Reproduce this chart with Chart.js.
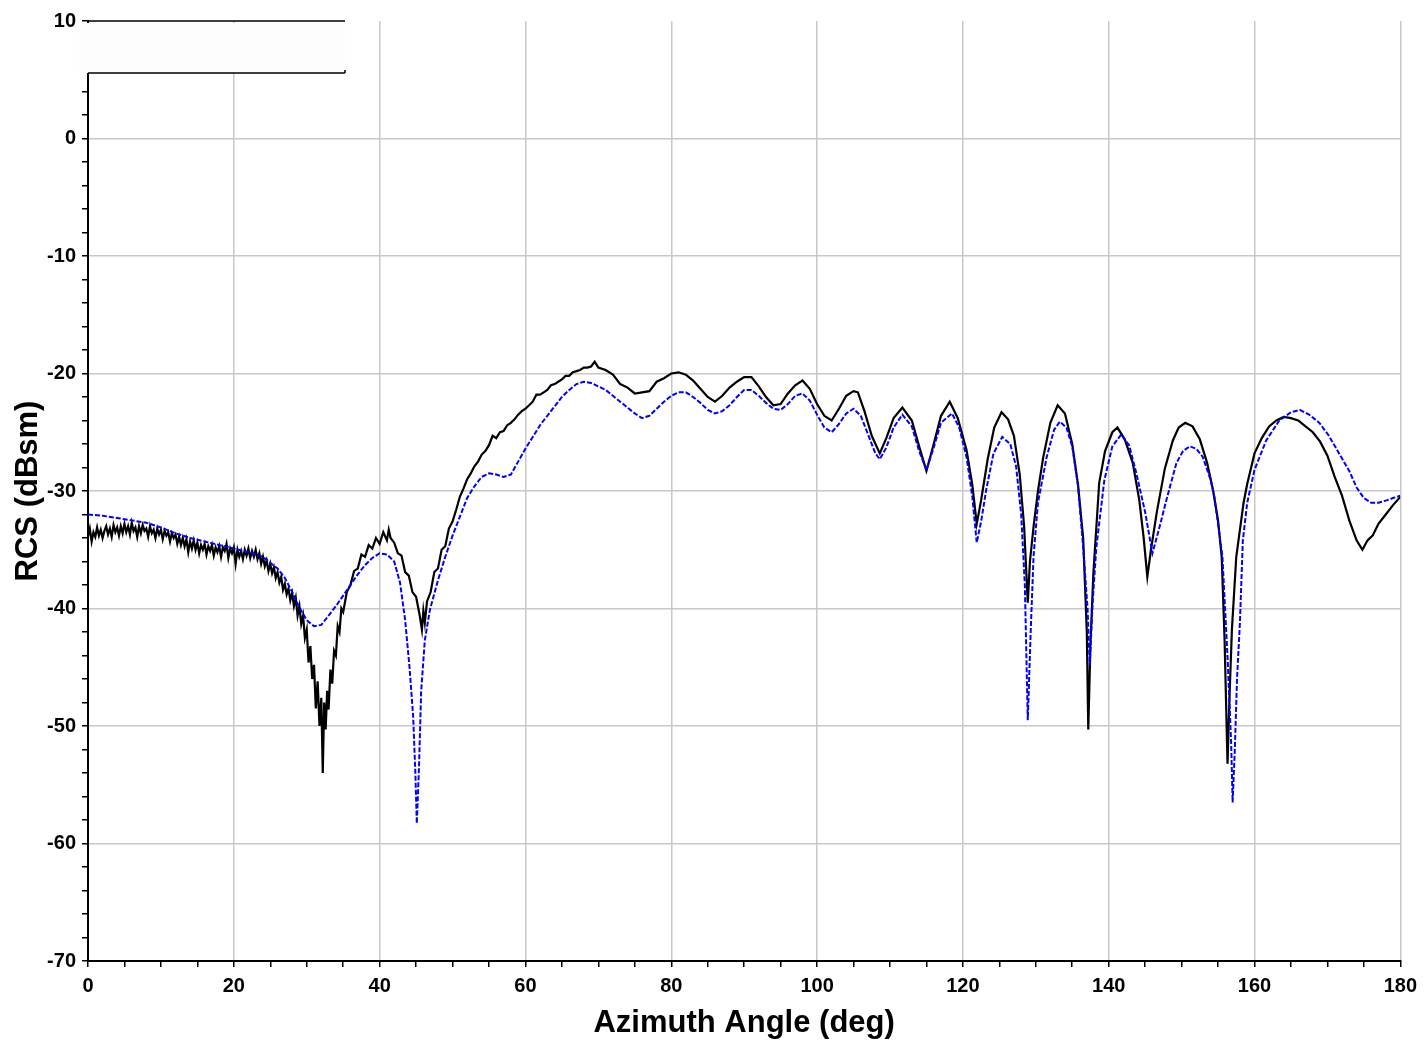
<!DOCTYPE html>
<html>
<head>
<meta charset="utf-8">
<script src="https://cdn.jsdelivr.net/npm/chart.js@4.4.1/dist/chart.umd.min.js"></script>
<style>
    body { margin: 0; background: #fff; }
    #wrap { width: 1424px; height: 1041px; }
</style>
</head>
<body>
<div id="wrap"><canvas id="rcsChart"></canvas></div>
<script>
// Measured RCS (black, noisy)
const measAngle = [
    0, 0.25, 0.5, 0.75, 1, 1.25, 1.5, 1.75, 2, 2.25, 2.5, 2.75, 3, 3.25, 3.5, 3.75, 4, 4.25, 4.5, 4.75,
    5, 5.25, 5.5, 5.75, 6, 6.25, 6.5, 6.75, 7, 7.25, 7.5, 7.75, 8, 8.25, 8.5, 8.75, 9, 9.25, 9.5, 9.75,
    10, 10.25, 10.5, 10.75, 11, 11.25, 11.5, 11.75, 12, 12.25, 12.5, 12.75, 13, 13.25, 13.5, 13.75, 14, 14.25, 14.5, 14.75,
    15, 15.25, 15.5, 15.75, 16, 16.25, 16.5, 16.75, 17, 17.25, 17.5, 17.75, 18, 18.25, 18.5, 18.75, 19, 19.25, 19.5, 19.75,
    20, 20.25, 20.5, 20.75, 21, 21.25, 21.5, 21.75, 22, 22.25, 22.5, 22.75, 23, 23.25, 23.5, 23.75, 24, 24.25, 24.5, 24.75,
    25, 25.25, 25.5, 25.75, 26, 26.25, 26.5, 26.75, 27, 27.25, 27.5, 27.75, 28, 28.25, 28.5, 28.75, 29, 29.25, 29.5, 29.75,
    30, 30.25, 30.5, 30.75, 31, 31.25, 31.5, 31.75, 32, 32.2, 32.4, 32.6, 32.8, 33, 33.25, 33.5, 33.75, 34, 34.25, 34.5, 34.75,
    35, 35.5, 36, 36.5, 37, 37.5, 38, 38.5, 39, 39.5, 40, 40.5, 41, 41.25, 41.5, 42, 42.5, 43, 43.5, 44,
    44.5, 45, 45.5, 45.8, 46, 46.2, 46.5, 47, 47.5, 48, 48.5, 49, 49.5,
    50, 50.5, 51, 51.5, 52, 52.5, 53, 53.5, 54, 54.5, 55, 55.5, 56, 56.5, 57, 57.5, 58, 58.5, 59, 59.5,
    60, 60.5, 61, 61.5, 62, 62.5, 63, 63.5, 64, 64.5, 65, 65.5, 66, 66.5, 67, 67.5, 68, 68.5, 69, 69.5,
    70, 71, 72, 73, 74, 75, 76, 77, 78, 79,
    80, 81, 82, 83, 84, 85, 86, 87, 88, 89, 90, 91, 92, 93, 94, 95, 96, 97, 98, 99,
    100, 101, 102, 103, 104, 105, 105.6, 106.5, 107.5, 108.6, 109.5, 110.5, 111.7, 113, 114, 115, 116, 117, 118.2, 119.3,
    120.5, 121.3, 121.9, 122.5, 123.4, 124.3, 125.3, 126.2, 127, 127.8, 128.4, 128.9, 129.2, 129.7, 130.3, 131, 132, 133, 134, 135,
    135.8, 136.5, 137, 137.2, 137.5, 137.9, 138.7, 139.5, 140.5, 141.2, 142.2, 143.3, 144.2, 144.8, 145.3, 145.8, 146.6, 147.7, 148.8, 149.6,
    150.5, 151.5, 152.5, 153.5, 154.3, 155, 155.5, 155.9, 156.3, 156.6, 156.9, 157.5, 158, 158.5, 159, 160, 161, 162, 163, 164,
    165, 166, 167, 168, 169, 170, 171, 172, 173, 174, 174.8, 175.5, 176.2, 177, 178, 179, 180
];
const measRcs = [
    -33.9, -33.2, -34.3, -33.5, -33.9, -33.1, -33.8, -33.3, -34.0, -33.4, -33.0, -33.7, -33.2, -33.9, -32.9, -33.5, -33.1, -33.8, -33.0, -33.6,
    -32.8, -33.5, -33.0, -33.7, -32.7, -33.4, -33.1, -33.9, -33.0, -33.6, -32.9, -33.4, -33.2, -33.9, -33.0, -33.6, -33.3, -34.0, -33.2, -33.7,
    -33.3, -34.1, -33.4, -33.8, -33.5, -34.3, -33.6, -34.0, -33.7, -34.5, -33.9, -34.6, -34.0, -34.7, -34.1, -35.2, -34.3, -34.9, -34.2, -35.0,
    -34.4, -35.3, -34.6, -35.0, -34.5, -35.4, -34.7, -35.1, -34.6, -35.5, -34.8, -35.2, -34.7, -35.6, -34.8, -35.1, -34.5, -35.7, -34.9, -35.3,
    -34.8, -36.2, -35.0, -35.6, -35.1, -35.8, -35.0, -35.5, -34.9, -35.7, -35.1, -35.6, -35.0, -35.8, -35.3, -36.2, -35.6, -36.4, -35.9, -36.8,
    -36.2, -37.0, -36.5, -37.4, -36.9, -37.8, -37.3, -38.4, -37.9, -38.8, -38.3, -39.3, -38.7, -39.8, -39.1, -40.6, -39.8, -41.3, -40.6, -42.5,
    -41.8, -44.6, -43.2, -46.0, -44.8, -48.5, -46.2, -50.0, -47.6, -54.0, -48.0, -50.3, -47.0, -48.6, -45.2, -46.4, -43.6, -44.0, -41.5, -42.0, -40.0,
    -40.3, -38.6, -38.0, -36.8, -36.6, -35.4, -35.6, -34.6, -34.9, -34.0, -34.5, -33.5, -34.2, -33.3, -34.0, -34.4, -35.3, -35.5, -36.9, -37.2,
    -38.6, -39.0, -40.6, -41.8, -40.2, -41.2, -39.4, -38.6, -36.9, -36.6, -35.0, -34.7, -33.2,
    -32.6, -31.6, -30.5, -29.8, -29.0, -28.5, -27.9, -27.5, -26.9, -26.6, -26.1, -25.3, -25.5, -25.0, -24.9, -24.4, -24.2, -23.9, -23.5, -23.2,
    -23.0, -22.7, -22.4, -21.8, -21.8, -21.6, -21.4, -21.0, -20.9, -20.7, -20.5, -20.2, -20.2, -19.9, -19.8, -19.7, -19.5, -19.5, -19.4, -19.0,
    -19.5, -19.7, -20.1, -20.9, -21.2, -21.7, -21.6, -21.5, -20.7, -20.4,
    -20.0, -19.9, -20.1, -20.6, -21.3, -22.0, -22.4, -21.9, -21.2, -20.7, -20.3, -20.3, -21.1, -22.0, -22.7, -22.6, -21.7, -21.0, -20.6, -21.3,
    -22.6, -23.6, -24.0, -23.0, -21.9, -21.5, -21.6, -23.2, -25.3, -26.8, -25.5, -23.8, -22.9, -24.0, -26.2, -28.3, -26.0, -23.6, -22.4, -23.8,
    -26.5, -29.5, -32.8, -30.8, -27.3, -24.6, -23.3, -23.9, -25.3, -28.6, -33.0, -39.5, -36.0, -33.0, -30.0, -27.2, -24.2, -22.7, -23.4, -26.0,
    -29.5, -34.0, -42.0, -50.3, -43.0, -37.0, -29.3, -26.6, -25.0, -24.6, -25.6, -27.6, -30.8, -34.0, -37.3, -35.0, -31.8, -28.1, -25.7, -24.6,
    -24.2, -24.5, -25.6, -27.6, -29.9, -32.5, -35.6, -42.7, -53.2, -47.0, -41.8, -35.6, -33.3, -31.0, -29.4, -26.8, -25.5, -24.5, -24.0, -23.7,
    -23.8, -24.0, -24.5, -25.0, -25.8, -27.0, -28.8, -30.4, -32.5, -34.2, -35.0, -34.2, -33.8, -32.8, -32.0, -31.2, -30.5
];

// Simulated RCS (blue, dashed)
const simAngle = [
    0, 2, 4, 6, 8, 10, 12, 14, 16, 18, 20, 22, 24, 25, 26, 27, 28, 29, 30, 31, 32, 33, 34, 35, 36, 37, 38, 39,
    40, 41, 42, 42.8, 43.5, 44.1, 44.6, 44.9, 45.1, 45.4, 45.7, 46.2, 46.9, 48, 49,
    50, 51, 52, 53, 54, 55, 56, 57, 58, 59, 60, 61, 62, 63, 64, 65, 66, 67, 68, 69,
    70, 71, 72, 73, 74, 75, 76, 77, 78, 79, 80, 81, 82, 83, 84, 85, 86, 87, 88, 89,
    90, 91, 92, 93, 94, 95, 96, 97, 98, 99, 100, 101, 102, 103, 104, 105, 106, 107, 108, 108.6, 109.5,
    110.5, 111.7, 113, 114, 115, 116, 117, 118.5, 119.5, 120.5, 121.3, 121.9, 122.5, 123.2, 124.2, 125.4, 126.5, 127.3, 128, 128.5, 128.9, 129.3, 129.7,
    130.3, 131.5, 132.5, 133.3, 134.2, 135, 135.8, 136.5, 137.1, 137.4, 137.8, 138.3, 139.4, 140.5, 141.7, 142.8, 143.8, 145, 146, 147, 147.9, 149.3,
    150.2, 151.1, 152, 152.9, 154, 154.5, 155.6, 156.3, 156.8, 157, 157.3, 157.6, 158, 158.4, 159, 160, 161.6, 163.4, 165, 166.2, 167.5, 168.9,
    170.2, 171.6, 173, 174, 175, 176, 177, 178.1, 179, 180
];
const simRcs = [
    -32.0, -32.1, -32.3, -32.5, -32.7, -33.1, -33.6, -34.0, -34.3, -34.6, -34.9, -35.2, -35.6, -36.1, -36.6, -37.4, -38.6, -39.9, -41.0, -41.5, -41.4, -40.6, -39.8, -38.9, -38.0, -37.1, -36.3, -35.7,
    -35.3, -35.4, -36.0, -37.8, -41.0, -45.0, -49.2, -54.0, -58.3, -53.5, -47.0, -42.7, -40.1, -37.6, -35.6,
    -33.8, -32.2, -30.6, -29.6, -28.8, -28.5, -28.6, -28.8, -28.6, -27.5, -26.4, -25.4, -24.4, -23.6, -22.8, -22.0, -21.4, -20.9, -20.7, -20.8,
    -21.1, -21.4, -21.9, -22.4, -22.9, -23.4, -23.8, -23.6, -23.0, -22.4, -21.9, -21.6, -21.6, -22.0, -22.5, -23.1, -23.4, -23.2, -22.7, -22.0,
    -21.4, -21.4, -21.9, -22.5, -23.0, -23.1, -22.6, -21.9, -21.7, -22.3, -23.5, -24.6, -25.0, -24.3, -23.4, -23.0, -23.6, -25.2, -26.8, -27.3, -26.3,
    -24.6, -23.5, -24.5, -26.6, -28.2, -26.3, -24.2, -23.4, -24.6, -27.1, -30.5, -34.4, -32.6, -29.9, -26.8, -25.4, -26.0, -27.9, -32.0, -38.0, -49.5, -42.0, -35.5,
    -31.0, -27.1, -24.8, -24.1, -24.6, -26.2, -29.6, -34.8, -40.0, -44.8, -39.5, -34.8, -29.1, -26.2, -25.2, -26.1, -28.5, -31.8, -35.3, -33.0, -30.8, -27.6,
    -26.6, -26.2, -26.4, -27.1, -29.1, -30.5, -35.6, -44.1, -51.5, -56.5, -52.0, -46.0, -41.2, -34.2, -31.0, -28.2, -25.7, -24.0, -23.3, -23.1, -23.5, -24.2,
    -25.3, -26.8, -28.3, -29.7, -30.6, -31.0, -31.0, -30.8, -30.6, -30.4
];

const xMajor = 20;
const yMajor = 10;

const toPoints = (xs, ys) => xs.map((x, i) => ({ x: x, y: ys[i] }));

// empty legend frame in the top left corner
const legendBox = {
    id: 'legendBox',
    beforeDatasetsDraw(chart) {
        const { ctx, chartArea } = chart;
        const left = chartArea.left;
        const right = chartArea.left + 257;
        const top = chartArea.top;
        const bottom = chartArea.top + 52;
        ctx.save();
        ctx.fillStyle = '#fdfdfd';
        ctx.fillRect(left - 9, top + 2, right - left + 9, bottom - top - 2);
        ctx.strokeStyle = '#000';
        ctx.lineWidth = 1.5;
        ctx.beginPath();
        ctx.moveTo(left, top); ctx.lineTo(right, top);
        ctx.moveTo(left, bottom); ctx.lineTo(right, bottom);
        ctx.moveTo(right, bottom - 3); ctx.lineTo(right, bottom);
        ctx.stroke();
        ctx.restore();
    }
};

const tickFont = { family: 'Liberation Sans, Arial, sans-serif', size: 20, weight: 'bold' };
const titleFont = { family: 'Liberation Sans, Arial, sans-serif', size: 31, weight: 'bold' };

new Chart(document.getElementById('rcsChart'), {
    type: 'line',
    data: {
        datasets: [
            {
                label: 'Simulated',
                data: toPoints(simAngle, simRcs),
                borderColor: '#0000ff',
                borderWidth: 2,
                borderDash: [5, 2],
                pointRadius: 0,
                tension: 0,
                order: 0
            },
            {
                label: 'Measured',
                data: toPoints(measAngle, measRcs),
                borderColor: '#000000',
                borderWidth: 2.2,
                pointRadius: 0,
                tension: 0,
                order: 1
            }
        ]
    },
    options: {
        responsive: true,
        maintainAspectRatio: false,
        animation: false,
        layout: { padding: { top: 21, right: 19, left: 0, bottom: 0 } },
        plugins: { legend: { display: false }, tooltip: { enabled: false } },
        scales: {
            x: {
                type: 'linear',
                min: 0,
                max: 180,
                afterFit: (scale) => { scale.height = 80; },
                ticks: {
                    stepSize: 5,
                    autoSkip: false,
                    maxRotation: 0,
                    padding: 7,
                    color: '#000',
                    font: tickFont,
                    callback: (v) => (v % xMajor === 0 ? v : '')
                },
                grid: {
                    color: (c) => (c.tick && c.tick.value % xMajor === 0 && c.tick.value !== 0 ? '#c8c8c8' : 'rgba(0,0,0,0)'),
                    tickColor: '#000',
                    tickLength: 6,
                    lineWidth: 1.5
                },
                border: { display: true, color: '#000', width: 2 },
                title: {
                    display: true,
                    text: 'Azimuth Angle (deg)',
                    color: '#000',
                    font: titleFont,
                    padding: { top: 0, bottom: -1 }
                }
            },
            y: {
                min: -70,
                max: 10,
                afterFit: (scale) => { scale.width = 88; },
                ticks: {
                    stepSize: 2,
                    autoSkip: false,
                    padding: 6,
                    color: '#000',
                    font: tickFont,
                    callback: (v) => (v % yMajor === 0 ? v : '')
                },
                grid: {
                    color: (c) => (c.tick && c.tick.value % yMajor === 0 && c.tick.value !== 10 && c.tick.value !== -70 ? '#c8c8c8' : 'rgba(0,0,0,0)'),
                    tickColor: '#000',
                    tickLength: 6,
                    lineWidth: 1.5
                },
                border: { display: true, color: '#000', width: 2 },
                title: {
                    display: true,
                    text: 'RCS (dBsm)',
                    color: '#000',
                    font: titleFont,
                    padding: { top: 10, bottom: 0 }
                }
            }
        }
    },
    plugins: [legendBox]
});
</script>
</body>
</html>
